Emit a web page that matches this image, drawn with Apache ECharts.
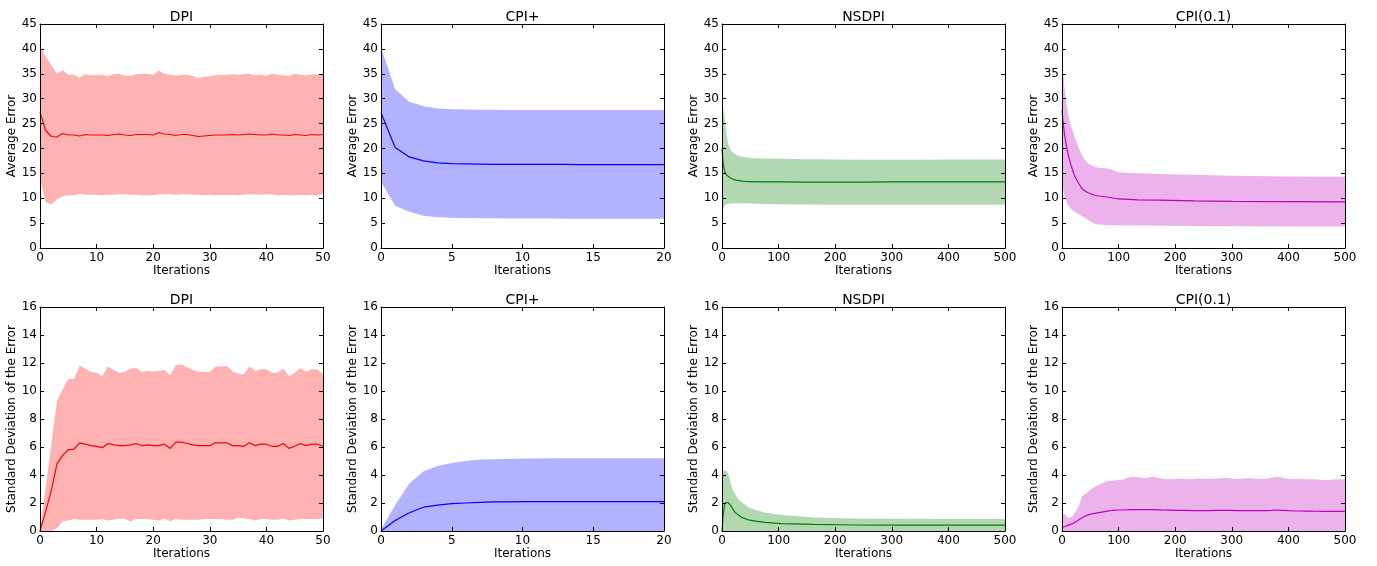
<!DOCTYPE html>
<html lang="en">
<head>
<meta charset="UTF-8">
<title>Error curves</title>
<script src="https://cdn.jsdelivr.net/npm/echarts@6/dist/echarts.min.js"></script>
<style>
    html, body { margin: 0; padding: 0; background: #fff; }
    #main { width: 1377px; height: 566px; }
</style>
</head>
<body>
<div id="main"></div>
<script>
// x positions (iterations) for each method
var dpiIters = [];
for (var i = 0; i <= 50; i++) dpiIters.push(i);
var cpiIters = [];
for (var i = 0; i <= 20; i++) cpiIters.push(i);
var nsAvgIters = [0, 2, 5, 8, 11, 14, 17, 20, 25, 30, 35, 40, 50, 60, 75, 100, 150, 200, 250, 300, 350, 400, 450, 500];
var nsStdIters = [0, 2, 5, 8, 10, 12, 15, 18, 23, 29, 35, 46, 60, 76, 105, 164, 234, 300, 400, 500];
var c01AvgIters = [0, 2, 5, 8, 11, 15, 20, 23, 30, 35, 40, 46, 52, 58, 65, 76, 88, 99, 120, 134, 170, 234, 300, 400, 500];
var c01StdIters = [0, 5, 10, 15, 20, 25, 30, 35, 40, 45, 50];
for (var i = 60; i <= 500; i += 10) c01StdIters.push(i);

// DPI - average error
var dpiAvgMean = [27.3, 23.6, 22.4, 22.3, 23.0, 22.7, 22.7, 22.5, 22.8, 22.7,
    22.7, 22.7, 22.6, 22.8, 22.9, 22.7, 22.6, 22.8, 22.8, 22.8,
    22.7, 23.2, 22.9, 22.8, 22.6, 22.8, 22.8, 22.6, 22.4, 22.5,
    22.6, 22.7, 22.7, 22.7, 22.8, 22.7, 22.8, 22.9, 22.8, 22.7,
    22.7, 22.9, 22.7, 22.7, 22.6, 22.8, 22.7, 22.6, 22.8, 22.7, 22.8];
var dpiAvgUpper = [40.5, 38.5, 36.7, 35.0, 35.7, 34.8, 34.8, 34.2, 34.9, 34.7,
    34.7, 34.8, 34.5, 34.9, 35.0, 34.6, 34.6, 34.9, 35.0, 35.0,
    34.8, 35.6, 35.0, 34.8, 34.6, 34.8, 34.8, 34.5, 34.1, 34.4,
    34.5, 34.7, 34.8, 34.8, 34.9, 34.8, 34.9, 35.0, 34.7, 34.8,
    34.6, 35.0, 34.8, 34.7, 34.6, 35.0, 34.8, 34.7, 34.9, 34.8, 34.8];
var dpiAvgLower = [14.0, 9.2, 8.7, 9.8, 10.4, 10.6, 10.6, 10.9, 10.7, 10.7,
    10.7, 10.6, 10.7, 10.7, 10.8, 10.8, 10.7, 10.7, 10.6, 10.6,
    10.6, 10.8, 10.8, 10.8, 10.7, 10.8, 10.8, 10.7, 10.7, 10.6,
    10.7, 10.6, 10.7, 10.6, 10.7, 10.6, 10.7, 10.8, 10.8, 10.7,
    10.8, 10.8, 10.6, 10.7, 10.6, 10.6, 10.7, 10.6, 10.7, 10.6, 10.8];

// DPI - std of error
var dpiStdMean = [0, 1.4, 2.9, 4.8, 5.4, 5.8, 5.85, 6.3, 6.2, 6.1,
    6.05, 5.95, 6.25, 6.15, 6.1, 6.1, 6.15, 6.25, 6.1, 6.15,
    6.1, 6.1, 6.2, 5.9, 6.35, 6.35, 6.25, 6.15, 6.1, 6.1,
    6.1, 6.3, 6.3, 6.3, 6.1, 6.1, 6.05, 6.3, 6.1, 6.2,
    6.2, 6.05, 6.05, 6.25, 5.9, 6.05, 6.25, 6.1, 6.2, 6.2, 6.05];
var dpiStdUpper = [0, 3.1, 6.2, 9.3, 10.1, 10.85, 10.85, 11.8, 11.6, 11.35,
    11.3, 11.05, 11.75, 11.5, 11.3, 11.35, 11.6, 11.65, 11.35, 11.45,
    11.4, 11.45, 11.5, 11.1, 11.85, 11.9, 11.7, 11.5, 11.4, 11.35,
    11.35, 11.75, 11.75, 11.8, 11.4, 11.25, 11.2, 11.75, 11.45, 11.55,
    11.55, 11.3, 11.3, 11.6, 11.05, 11.3, 11.65, 11.35, 11.55, 11.55, 11.2];
var dpiStdLower = [0, 0, 0, 0.2, 0.7, 0.75, 0.85, 0.8, 0.8, 0.8,
    0.8, 0.85, 0.75, 0.8, 0.9, 0.85, 0.7, 0.85, 0.85, 0.85,
    0.8, 0.75, 0.9, 0.7, 0.85, 0.8, 0.8, 0.8, 0.8, 0.85,
    0.85, 0.85, 0.85, 0.8, 0.8, 0.95, 0.9, 0.85, 0.75, 0.85,
    0.85, 0.8, 0.8, 0.9, 0.75, 0.8, 0.85, 0.85, 0.85, 0.85, 0.9];

// CPI+
var cpiAvgMean = [27.2, 20.2, 18.3, 17.5, 17.1, 16.95, 16.9, 16.85, 16.8, 16.8, 16.8, 16.8, 16.8, 16.8, 16.75, 16.75, 16.75, 16.75, 16.75, 16.75, 16.75];
var cpiAvgUpper = [40.3, 31.9, 29.4, 28.5, 28.0, 27.85, 27.8, 27.75, 27.75, 27.7, 27.7, 27.7, 27.7, 27.7, 27.7, 27.7, 27.7, 27.7, 27.7, 27.7, 27.7];
var cpiAvgLower = [13.3, 8.5, 7.3, 6.5, 6.2, 6.1, 6.05, 6.0, 6.0, 5.95, 5.95, 5.95, 5.95, 5.9, 5.9, 5.9, 5.9, 5.9, 5.9, 5.9, 5.9];
var cpiStdMean = [0, 0.75, 1.3, 1.7, 1.85, 1.95, 2.0, 2.05, 2.08, 2.08, 2.1, 2.1, 2.1, 2.1, 2.1, 2.1, 2.1, 2.1, 2.1, 2.1, 2.1];
var cpiStdUpper = [0.1, 1.85, 3.4, 4.25, 4.65, 4.85, 5.0, 5.1, 5.13, 5.15, 5.17, 5.18, 5.2, 5.2, 5.2, 5.2, 5.2, 5.2, 5.2, 5.2, 5.2];

// NSDPI
var nsAvgMean = [20.0, 17.0, 15.3, 14.7, 14.3, 14.1, 13.9, 13.8, 13.65, 13.55, 13.45, 13.4, 13.35, 13.3, 13.3, 13.28, 13.25, 13.25, 13.25, 13.27, 13.27, 13.28, 13.3, 13.3];
var nsAvgUpper = [31.0, 28.5, 26.0, 23.0, 20.9, 20.0, 19.4, 19.1, 18.75, 18.5, 18.35, 18.25, 18.15, 18.05, 18.0, 17.95, 17.85, 17.8, 17.75, 17.75, 17.75, 17.8, 17.8, 17.8];
var nsAvgLower = [7.3, 8.0, 8.6, 8.8, 8.9, 8.95, 8.95, 9.0, 9.0, 9.0, 9.0, 8.97, 8.95, 8.9, 8.85, 8.8, 8.75, 8.7, 8.7, 8.7, 8.7, 8.7, 8.7, 8.7];
var nsStdMean = [0, 1.1, 2.0, 2.1, 2.05, 2.0, 1.85, 1.65, 1.33, 1.15, 0.97, 0.8, 0.7, 0.62, 0.52, 0.47, 0.43, 0.42, 0.42, 0.42];
var nsStdUpper = [0.2, 4.3, 4.35, 4.3, 4.3, 4.0, 3.45, 3.0, 2.65, 2.27, 2.05, 1.72, 1.5, 1.33, 1.14, 0.97, 0.9, 0.87, 0.85, 0.85];

// CPI(0.1)
var c01AvgMean = [27.7, 25.0, 22.4, 20.3, 18.7, 17.0, 15.2, 14.3, 12.9, 12.0, 11.5, 11.1, 10.85, 10.6, 10.45, 10.3, 10.1, 9.85, 9.75, 9.65, 9.6, 9.45, 9.35, 9.3, 9.25];
var c01AvgUpper = [40, 35.5, 31.5, 29.0, 26.8, 24.8, 23.2, 22.0, 20.0, 18.7, 17.8, 17.0, 16.6, 16.3, 16.1, 16.0, 15.7, 15.2, 15.05, 15.0, 14.85, 14.7, 14.5, 14.35, 14.3];
var c01AvgLower = [13.7, 11.7, 10.3, 9.3, 8.6, 8.0, 7.5, 7.3, 6.8, 6.4, 6.2, 5.6, 5.2, 4.85, 4.7, 4.6, 4.55, 4.5, 4.5, 4.5, 4.45, 4.4, 4.35, 4.3, 4.3];
var c01StdMean = [0.25, 0.32, 0.4, 0.47, 0.55, 0.67, 0.8, 0.93, 1.05, 1.13, 1.2,
    1.28, 1.35, 1.42, 1.48, 1.5, 1.5, 1.52, 1.53, 1.53, 1.52,
    1.52, 1.51, 1.5, 1.49, 1.48, 1.48, 1.47, 1.45, 1.45, 1.46,
    1.46, 1.47, 1.47, 1.47, 1.47, 1.46, 1.46, 1.45, 1.45, 1.45,
    1.45, 1.47, 1.5, 1.48, 1.45, 1.43, 1.43, 1.42, 1.42, 1.41,
    1.4, 1.4, 1.4, 1.4, 1.4];
var c01StdUpper = [1.3, 1.2, 0.95, 0.95, 1.15, 1.45, 1.8, 2.45, 2.6, 2.75, 2.95,
    3.2, 3.4, 3.55, 3.6, 3.65, 3.7, 3.85, 3.85, 3.8, 3.8,
    3.9, 3.8, 3.72, 3.7, 3.72, 3.75, 3.72, 3.7, 3.76, 3.72,
    3.75, 3.73, 3.76, 3.78, 3.75, 3.72, 3.74, 3.78, 3.75, 3.72,
    3.73, 3.8, 3.88, 3.8, 3.72, 3.7, 3.73, 3.7, 3.7, 3.68,
    3.65, 3.65, 3.67, 3.7, 3.7];

var lefts = [40, 381, 722, 1062];
var tops = [24, 307];

var panels = [
    { title: 'DPI', row: 0, col: 0, x: dpiIters, max: 50, step: 10, mean: dpiAvgMean, upper: dpiAvgUpper, lower: dpiAvgLower, c: '#ff0000', band: '#ffb2b2' },
    { title: 'CPI+', row: 0, col: 1, x: cpiIters, max: 20, step: 5, mean: cpiAvgMean, upper: cpiAvgUpper, lower: cpiAvgLower, c: '#0000ff', band: '#b2b2ff' },
    { title: 'NSDPI', row: 0, col: 2, x: nsAvgIters, max: 500, step: 100, mean: nsAvgMean, upper: nsAvgUpper, lower: nsAvgLower, c: '#008000', band: '#b2d8b2' },
    { title: 'CPI(0.1)', row: 0, col: 3, x: c01AvgIters, max: 500, step: 100, mean: c01AvgMean, upper: c01AvgUpper, lower: c01AvgLower, c: '#bf00bf', band: '#ebb2eb' },
    { title: 'DPI', row: 1, col: 0, x: dpiIters, max: 50, step: 10, mean: dpiStdMean, upper: dpiStdUpper, lower: dpiStdLower, c: '#ff0000', band: '#ffb2b2' },
    { title: 'CPI+', row: 1, col: 1, x: cpiIters, max: 20, step: 5, mean: cpiStdMean, upper: cpiStdUpper, lower: null, c: '#0000ff', band: '#b2b2ff' },
    { title: 'NSDPI', row: 1, col: 2, x: nsStdIters, max: 500, step: 100, mean: nsStdMean, upper: nsStdUpper, lower: null, c: '#008000', band: '#b2d8b2' },
    { title: 'CPI(0.1)', row: 1, col: 3, x: c01StdIters, max: 500, step: 100, mean: c01StdMean, upper: c01StdUpper, lower: null, c: '#bf00bf', band: '#ebb2eb' }
];

function pairs(xs, ys) {
    return xs.map(function (x, k) { return [x, ys[k]]; });
}

var font = 'DejaVu Sans';
var tick = { inside: true, length: 4, lineStyle: { color: '#000', width: 1 } };
var line = { onZero: false, lineStyle: { color: '#000', width: 1 } };

var grids = [], xAxes = [], yAxes = [], series = [];

panels.forEach(function (p, i) {
    grids.push({ left: lefts[p.col], top: tops[p.row], width: 283, height: 224 });
    var ymax = p.row === 0 ? 45 : 16;
    var ystep = p.row === 0 ? 5 : 2;
    var yname = p.row === 0 ? 'Average Error' : 'Standard Deviation of the Error';

    xAxes.push({
        gridIndex: i, type: 'value', min: 0, max: p.max, interval: p.step, position: 'bottom',
        name: 'Iterations', nameLocation: 'middle', nameGap: 15,
        nameTextStyle: { fontSize: 12, color: '#000', fontFamily: font },
        axisLine: line, axisTick: tick, splitLine: { show: false },
        axisLabel: { fontSize: 12, color: '#000', fontFamily: font, margin: 4 }, z: 5
    });
    xAxes.push({
        gridIndex: i, type: 'value', min: 0, max: p.max, interval: p.step, position: 'top',
        name: p.title, nameLocation: 'middle', nameGap: 0,
        nameTextStyle: { fontSize: 14, color: '#000', fontFamily: font },
        axisLine: line, axisTick: tick, splitLine: { show: false },
        axisLabel: { show: false }, z: 5
    });
    yAxes.push({
        gridIndex: i, type: 'value', min: 0, max: ymax, interval: ystep, position: 'left',
        name: yname, nameLocation: 'middle', nameGap: 22,
        nameTextStyle: { fontSize: 12, color: '#000', fontFamily: font },
        axisLine: line, axisTick: tick, splitLine: { show: false },
        axisLabel: { fontSize: 12, color: '#000', fontFamily: font, margin: 3 }, z: 5
    });
    yAxes.push({
        gridIndex: i, type: 'value', min: 0, max: ymax, interval: ystep, position: 'right',
        axisLine: line, axisTick: tick, splitLine: { show: false },
        axisLabel: { show: false }, z: 5
    });

    var ax = { xAxisIndex: 2 * i, yAxisIndex: 2 * i, symbol: 'none', silent: true };
    // band: fill from the axis up to the upper edge, then blank out below the lower edge
    series.push(Object.assign({ type: 'line', data: pairs(p.x, p.upper), z: 1,
        lineStyle: { opacity: 0 }, areaStyle: { color: p.band, opacity: 1, origin: 'start' } }, ax));
    if (p.lower) {
        series.push(Object.assign({ type: 'line', data: pairs(p.x, p.lower), z: 2,
            lineStyle: { opacity: 0 }, areaStyle: { color: '#ffffff', opacity: 1, origin: 'start' } }, ax));
    }
    series.push(Object.assign({ type: 'line', data: pairs(p.x, p.mean), z: 3,
        lineStyle: { color: p.c, width: 1.2 } }, ax));
});

var chart = echarts.init(document.getElementById('main'));
chart.setOption({
    animation: false,
    backgroundColor: '#fff',
    grid: grids,
    xAxis: xAxes,
    yAxis: yAxes,
    series: series
});
</script>
</body>
</html>
